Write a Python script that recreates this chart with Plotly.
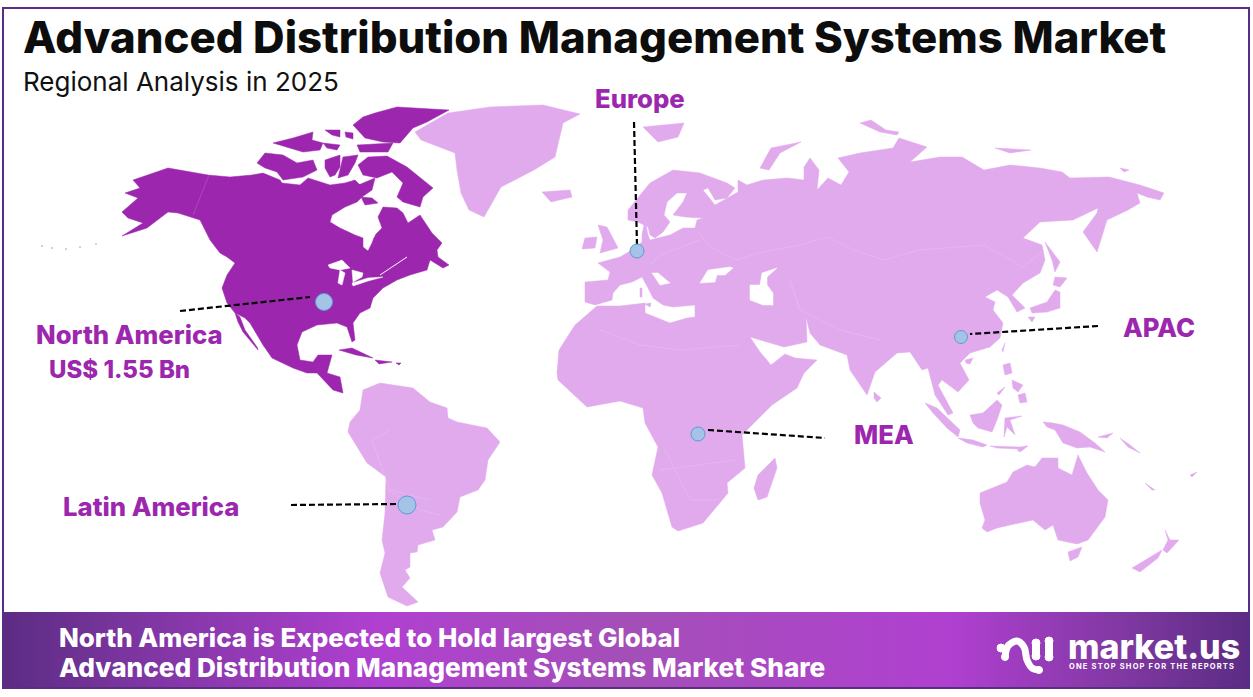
import plotly.graph_objects as go

TITLE = "Advanced Distribution Management Systems Market"
SUBTITLE = "Regional Analysis in 2025"
BAND_LINES = ["North America is Expected to Hold largest Global",
              "Advanced Distribution Management Systems Market Share"]
LOGO_NAME = "market.us"
LOGO_TAG = "\u2009".join("ONE STOP SHOP FOR THE REPORTS")

# ---- outlines (x, y in picture pixels) ----
north_america_main = [(133,180),(153,173),(168,168),(208,175),(230,177),(252,175),(263,173),(280,180),(282,183),(300,185),(308,178),(330,185),(345,183),(355,180),(360,185),(362,197),(357,202),(345,207),(332,215),(330,222),(340,228),(355,235),(363,238),(363,247),(368,251),(372,243),(375,235),(382,228),(378,217),(383,207),(397,208),(403,213),(408,223),(420,215),(432,233),(442,243),(437,250),(438,257),(449,265),(443,268),(430,260),(427,270),(410,275),(397,280),(383,288),(373,298),(370,308),(360,313),(353,323),(355,340),(352,342),(347,327),(337,323),(317,325),(302,332),(297,345),(300,360),(313,362),(318,355),(332,355),(327,373),(340,377),(343,393),(333,390),(317,373),(307,373),(293,368),(272,358),(263,345),(250,323),(245,318),(235,313),(227,303),(222,288),(227,275),(235,263),(227,257),(220,253),(210,240),(200,220),(178,213),(168,212),(160,218),(147,228),(122,236),(143,223),(128,218),(122,212),(138,198),(125,193),(140,188)]
baja = [(235,313),(240,317),(245,330),(257,347),(258,350),(250,340),(243,332),(238,322)]
ellesmere = [(375,113),(397,107),(449,110),(427,122),(413,128),(400,143),(383,142),(365,138),(353,125),(363,117)]
baffin = [(358,165),(368,157),(387,156),(407,167),(433,188),(423,197),(420,207),(403,202),(397,197),(403,183),(392,172),(377,178),(363,175)]
melville = [(356,186),(375,178),(372,190),(362,197)]
southampton = [(361,197),(372,198),(378,203),(365,205)]
victoria = [(257,163),(265,153),(283,155),(297,163),(313,160),(317,170),(303,177),(283,180),(277,172),(265,168)]
banks = [(273,143),(293,138),(313,132),(312,140),(323,143),(320,150),(303,152),(287,147)]
axel = [(325,130),(340,130),(340,137),(332,135)]
ringnes = [(345,132),(353,133),(353,139),(346,137)]
bathurst = [(323,143),(340,145),(337,150),(327,148)]
prince_of_wales = [(325,160),(340,155),(340,167),(335,175),(330,177),(325,168)]
somerset = [(343,157),(358,155),(355,163),(348,175),(338,178)]
devon = [(357,145),(393,143),(388,152),(360,152)]
cuba = [(339,350),(352,348),(373,358),(356,355)]
hispaniola = [(375,360),(392,362),(379,364)]
puerto_rico = [(396,363),(401,363),(399,365)]
dark_land = [north_america_main, baja, ellesmere, baffin, melville, southampton, victoria, banks, axel, ringnes,
             bathurst, prince_of_wales, somerset, devon, cuba, hispaniola, puerto_rico]

dark_water = [
    [(328,265),(342,260),(350,268),(340,270),(330,268)],
    [(340,270),(338,283),(342,285),(345,273)],
    [(352,270),(363,273),(362,277),(353,282)],
    [(352,283),(368,278),(383,277),(368,281),(353,286)],
    [(391,181),(398,180),(400,185),(393,187)],
    [(371,236),(376,232),(374,237)],
]
dark_channels = [
    [(407,257),(395,265),(380,275)],
]

afro_eurasia = [(585,302),(585,282),(608,280),(610,272),(598,263),(620,257),(632,250),(642,242),(642,235),(645,220),(648,235),(650,240),(670,235),(683,228),(695,228),(697,220),(703,218),(685,217),(673,215),(683,202),(687,193),(677,193),(667,202),(664,215),(670,222),(663,232),(655,238),(650,235),(648,227),(638,222),(628,220),(628,210),(650,183),(673,170),(700,173),(727,183),(735,188),(727,198),(715,200),(708,188),(703,190),(715,205),(738,192),(738,180),(747,185),(763,180),(787,178),(804,180),(804,167),(810,158),(819,170),(817,190),(828,178),(841,185),(849,172),(838,158),(860,153),(893,148),(899,138),(927,147),(910,162),(940,157),(962,157),(975,165),(984,170),(1010,165),(1040,168),(1062,172),(1070,178),(1109,177),(1140,185),(1164,193),(1160,200),(1147,197),(1137,193),(1140,203),(1128,210),(1107,220),(1097,252),(1083,232),(1097,213),(1098,208),(1090,212),(1073,220),(1040,222),(1023,238),(1042,245),(1045,260),(1040,273),(1023,283),(1012,295),(1025,308),(1017,312),(1008,297),(997,290),(985,297),(995,302),(993,310),(1003,323),(1000,338),(990,347),(970,353),(960,363),(969,380),(958,392),(942,380),(938,385),(953,413),(948,415),(935,395),(928,368),(922,370),(910,352),(897,353),(875,372),(867,395),(850,370),(847,355),(820,345),(810,333),(806,317),(807,342),(784,347),(750,337),(760,352),(771,365),(785,354),(795,358),(817,360),(804,373),(797,388),(772,405),(742,435),(745,468),(727,483),(728,493),(718,505),(703,523),(678,531),(672,527),(662,493),(652,475),(658,447),(645,423),(643,408),(620,401),(587,407),(558,380),(557,373),(559,350),(575,325),(597,306),(620,306),(645,303),(645,313),(670,323),(687,318),(695,317),(695,305),(673,307),(663,305),(653,298),(648,288),(642,277),(632,282),(620,285),(613,293),(612,300),(595,305)]
greenland = [(415,132),(448,113),(490,107),(543,105),(580,114),(563,123),(555,157),(534,170),(501,187),(484,217),(469,210),(461,193),(457,170),(455,153),(421,140)]
south_america = [(363,390),(380,383),(413,388),(430,402),(447,408),(448,418),(457,422),(487,428),(500,442),(488,460),(485,480),(478,490),(460,497),(457,512),(443,527),(432,530),(435,540),(418,545),(417,552),(410,553),(410,567),(405,570),(410,578),(402,587),(418,602),(407,606),(388,597),(380,573),(385,553),(382,540),(385,513),(386,477),(367,463),(355,443),(348,432),(350,422),(360,410)]
australia = [(980,493),(1007,482),(1013,472),(1027,465),(1035,467),(1042,458),(1058,458),(1058,468),(1072,475),(1078,455),(1087,473),(1098,490),(1108,500),(1105,517),(1088,540),(1077,544),(1058,540),(1053,525),(1045,530),(1033,520),(1010,525),(997,528),(987,532),(982,528),(985,520),(980,503)]
light_land = [afro_eurasia, greenland, south_america, australia]

light_water = [
    [(652,273),(658,273),(670,283),(660,285)],
    [(700,283),(708,270),(730,267),(733,268),(725,275),(717,275),(715,282)],
    [(750,285),(760,285),(762,273),(777,268),(767,277),(767,285),(773,293),(773,305),(763,305),(750,300)],
]

islands = [
    [(542,192),(570,190),(572,197),(551,202)],
    [(598,225),(607,227),(618,248),(600,253),(603,240)],
    [(582,249),(585,238),(597,237),(595,248)],
    [(643,127),(684,123),(678,137),(658,142)],
    [(760,168),(771,148),(801,142),(780,153),(769,170)],
    [(860,123),(871,120),(886,130),(899,132),(897,135),(880,132)],
    [(995,148),(1031,150),(1010,153)],
    [(1120,168),(1129,170),(1124,172)],
    [(1055,277),(1067,278),(1060,287),(1053,285)],
    [(1055,290),(1060,292),(1060,308),(1047,312),(1032,313),(1030,308),(1047,302)],
    [(1028,317),(1035,317),(1032,322)],
    [(1045,242),(1057,258),(1060,262),(1055,272),(1052,260)],
    [(1002,350),(1005,343),(1003,352)],
    [(965,360),(973,358),(970,364),(966,363)],
    [(874,392),(881,398),(877,402),(874,398)],
    [(925,403),(937,408),(960,430),(958,437),(947,428),(933,413)],
    [(958,438),(973,440),(987,445),(983,447),(967,443)],
    [(990,446),(1020,447),(1027,446),(1020,449),(997,448)],
    [(1017,450),(1028,446),(1020,452)],
    [(970,415),(983,413),(997,400),(1002,405),(997,420),(992,432),(978,428),(973,423)],
    [(1005,418),(1022,416),(1010,420),(1015,435),(1007,427),(1004,437)],
    [(1003,365),(1010,363),(1012,373),(1005,375)],
    [(1018,395),(1025,393),(1027,402),(1020,403)],
    [(1012,380),(1023,385),(1018,392),(1013,388)],
    [(997,393),(1005,387),(999,395)],
    [(1043,422),(1053,423),(1063,425),(1080,432),(1095,443),(1105,452),(1090,447),(1077,448),(1063,443),(1055,430),(1047,427)],
    [(1098,437),(1113,433),(1107,438)],
    [(1120,438),(1130,445),(1140,453),(1128,447)],
    [(1145,483),(1155,490),(1152,490)],
    [(1190,475),(1197,472),(1192,477)],
    [(1068,552),(1082,547),(1078,557),(1070,561)],
    [(1132,568),(1162,550),(1158,558),(1140,572)],
    [(1165,530),(1170,540),(1179,540),(1167,553),(1163,550),(1168,540)],
    [(775,458),(777,468),(767,497),(758,500),(754,488),(758,475)],
    [(640,288),(642,288),(642,297),(640,297)],
    [(645,304),(651,303),(650,307)],
]

light_borders = [
    [(697,230),(710,247),(736,260),(758,253),(799,245),(828,237),(854,250),(884,260),(919,250),(984,245),(1023,267),(1044,250)],
    [(600,330),(640,345),(680,350),(740,345)],
    [(660,470),(700,465),(735,460)],
    [(665,450),(690,500),(720,500)],
    [(390,430),(372,440),(390,490),(430,500)],
    [(388,490),(420,510),(440,515)],
    [(790,280),(800,310),(840,330),(880,340)],
    [(700,240),(660,255),(650,265)],
]
dark_borders = [[(209,175),(193,215)]]

# ---- callouts ----
region_names = ["North America", "Europe", "APAC", "MEA", "Latin America"]
marker_x = [324, 637, 961, 698, 407]
marker_y = [302, 251, 337, 434, 505]
marker_px = [17, 14, 13, 14, 18]
leader_start_x = [180, 634, 1098, 708, 291]
leader_start_y = [311, 122, 326, 430, 505]
leader_end_x = [310, 637, 970, 825, 397]
leader_end_y = [297, 245, 334, 438, 504]
label_x = [129, 640, 1159, 884, 151]
label_y = [334, 98, 327, 434, 506]
value_label = "US$ 1.55 Bn"

# ---- footer band gradient ----
band_colors = [[0, "#5B2C83"], [0.1, "#7B359F"], [0.3, "#B040D0"], [0.5, "#A44FB8"], [0.76, "#B040D0"], [0.9, "#8038A2"], [1, "#5B2C83"]]

# ---- logo strokes ----
logo_arc = [(1005,657),(1008,646),(1017,641),(1024,647),(1027,660),(1032,668),(1039,670)]
logo_bars = [[(1036,643),(1036,656)], [(1049,641),(1049,657)]]
logo_dot = (1001,648)

DARK = "#9C27AE"
LIGHT = "#E1AAEC"
FRAME = "#5B2C83"


def flat(polys):
    xs, ys = [], []
    for p in polys:
        xs += [a for a, _ in p] + [p[0][0], None]
        ys += [b for _, b in p] + [p[0][1], None]
    return xs, ys


def flat_open(polys):
    xs, ys = [], []
    for p in polys:
        xs += [a for a, _ in p] + [None]
        ys += [b for _, b in p] + [None]
    return xs, ys


fig = go.Figure()


def fill(polys, color):
    x, y = flat(polys)
    fig.add_trace(go.Scatter(x=x, y=y, mode="lines", fill="toself", fillcolor=color,
                             line=dict(color=color, width=0.5), hoverinfo="skip"))


def thin(polys, color, width=0.6):
    x, y = flat_open(polys)
    fig.add_trace(go.Scatter(x=x, y=y, mode="lines", line=dict(color=color, width=width), hoverinfo="skip"))


fill(light_land, LIGHT)
fill(dark_land, DARK)
fill(light_water + dark_water, "#FFFFFF")
fill(islands, LIGHT)
thin(light_borders, "#E8BDF1")
thin(dark_borders, "#B65CC6")
thin(dark_channels, "#FFFFFF", 1)

# Aleutian chain
fig.add_trace(go.Scatter(x=[42, 52, 66, 80, 96], y=[246, 248, 249, 247, 244], mode="markers",
                         marker=dict(color=LIGHT, size=2), hoverinfo="skip"))

# footer band
fig.add_trace(go.Scatter(x=[3, 1249, 1249, 3, 3], y=[612, 612, 688, 688, 612], mode="lines", fill="toself",
                         line=dict(width=0, color="#5B2C83"),
                         fillgradient=dict(type="horizontal", colorscale=band_colors, start=3, stop=1249),
                         hoverinfo="skip"))

# leaders
for i in range(len(region_names)):
    fig.add_trace(go.Scatter(x=[leader_start_x[i], leader_end_x[i]], y=[leader_start_y[i], leader_end_y[i]],
                             mode="lines", line=dict(color="#000000", width=2.2, dash="6px,3px"), hoverinfo="skip"))
fig.add_trace(go.Scatter(x=marker_x, y=marker_y, mode="markers",
                         marker=dict(color="#A5C3E6", size=marker_px, opacity=1, line=dict(color="#5B9BD5", width=1)),
                         hoverinfo="skip"))

# logo
lx = [p[0] for p in logo_arc]
ly = [p[1] for p in logo_arc]
fig.add_trace(go.Scatter(x=lx, y=ly, mode="lines", line=dict(color="#FFFFFF", width=7, shape="spline"), hoverinfo="skip"))
bx, by = flat_open(logo_bars)
fig.add_trace(go.Scatter(x=bx, y=by, mode="lines", line=dict(color="#FFFFFF", width=8), hoverinfo="skip"))
fig.add_trace(go.Scatter(
    x=[logo_dot[0], lx[0], lx[-1], logo_bars[0][0][0], logo_bars[0][1][0], logo_bars[1][0][0], logo_bars[1][1][0]],
    y=[logo_dot[1], ly[0], ly[-1], logo_bars[0][0][1], logo_bars[0][1][1], logo_bars[1][0][1], logo_bars[1][1][1]],
    mode="markers", marker=dict(color="#FFFFFF", size=[8, 7, 7, 8, 8, 8, 8], opacity=1), hoverinfo="skip"))

FONT = "Inter"


def text(x, y, s, size, color, weight=700, anchor="left"):
    fig.add_annotation(x=x, y=y, text=s, showarrow=False, xanchor=anchor, yanchor="middle",
                       font=dict(family=FONT, size=size, color=color, weight=weight))


text(21, 37, TITLE, 43.7, "#0D0D0D", 800)
text(21, 81, SUBTITLE, 26, "#111111", 400)
for i, name in enumerate(region_names):
    text(label_x[i], label_y[i], name, 25.7, DARK, 800, "center")
text(119, 369, value_label, 24, DARK, 800, "center")
text(57, 637, BAND_LINES[0], 25.9, "#FFFFFF", 800)
text(57, 667, BAND_LINES[1], 26.2, "#FFFFFF", 800)
text(1066, 646, LOGO_NAME, 34, "#FFFFFF", 800)
text(1067, 666, LOGO_TAG, 7.5, "#FFFFFF", 700)

fig.update_layout(
    width=1253, height=697, margin=dict(l=0, r=0, t=0, b=0), showlegend=False,
    paper_bgcolor="#FFFFFF", plot_bgcolor="#FFFFFF",
    xaxis=dict(range=[0, 1253], visible=False, fixedrange=True),
    yaxis=dict(range=[697, 0], visible=False, fixedrange=True),
    shapes=[dict(type="rect", xref="x", yref="y", x0=3, y0=8, x1=1249, y1=688,
                 line=dict(color=FRAME, width=2), layer="above")],
)
fig.write_html("out.html", config=dict(displayModeBar=False),
               post_script="document.body.style.margin='0';document.body.style.overflow='hidden';")
